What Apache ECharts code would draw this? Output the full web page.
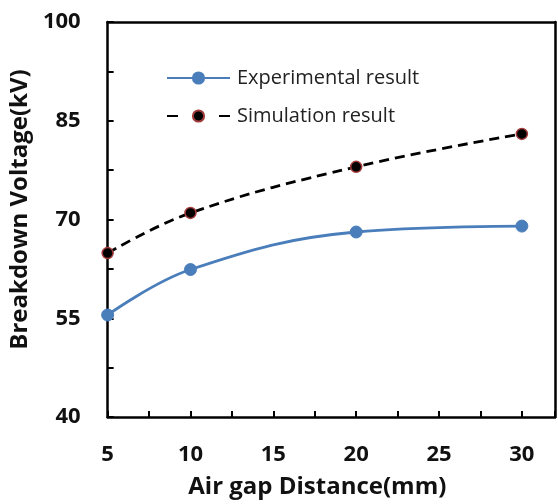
<!DOCTYPE html>
<html><head><meta charset="utf-8">
<script src="https://cdn.jsdelivr.net/npm/echarts@6/dist/echarts.min.js"></script>
<style>html,body{margin:0;padding:0;background:#fff}#c{width:558px;height:504px}</style>
</head><body><div id="c"></div>
<script>
const gapMM = [5, 10, 20, 30];
const experimental = [55.5, 62.4, 68.1, 69.0];
const simulation = [64.9, 71.0, 78.0, 83.0];
const xLabels = [5, 10, 15, 20, 25, 30];
const yLabels = [40, 55, 70, 85, 100];

const FONT = 'Open Sans';
const chart = echarts.init(document.getElementById('c'), null, {renderer: 'canvas'});
const axisLineStyle = {color: '#000', width: 2.5};
chart.setOption({
  animation: false,
  backgroundColor: '#fff',
  grid: {left: 103, right: 3, top: 22, bottom: 84, containLabel: false},
  legend: {
    orient: 'vertical', left: 166, top: 68, itemGap: 18, padding: 0,
    itemWidth: 63, itemHeight: 14,
    textStyle: {fontFamily: FONT, fontSize: 20, color: '#222', padding: [0, 0, 0, 2]},
    data: [
      {name: 'Experimental result'},
      {name: 'Simulation result', lineStyle: {type: [11, 41]}}
    ]
  },
  xAxis: [{
    type: 'value', min: 5, max: 32, interval: 2.5,
    axisLine: {lineStyle: axisLineStyle},
    axisTick: {inside: true, length: 6, lineStyle: {color: '#000', width: 2}},
    splitLine: {show: false},
    axisLabel: {
      margin: 27, fontFamily: FONT, fontWeight: 'bold', fontSize: 22, color: '#111',
      formatter: v => xLabels.includes(v) ? String(v) : ''
    },
    name: 'Air gap Distance(mm)', nameLocation: 'middle', nameGap: 58,
    nameTextStyle: {fontFamily: FONT, fontWeight: 'bold', fontSize: 24, color: '#111', padding: [0, 28, 0, 0]}
  }, {
    type: 'value', position: 'top', min: 5, max: 32,
    axisLine: {show: true, lineStyle: axisLineStyle},
    axisTick: {show: false}, axisLabel: {show: false}, splitLine: {show: false}
  }],
  yAxis: [{
    type: 'value', min: 40, max: 100, interval: 7.5,
    axisLine: {show: true, lineStyle: axisLineStyle},
    axisTick: {inside: true, length: 6, lineStyle: {color: '#000', width: 2}},
    splitLine: {show: false},
    axisLabel: {
      margin: 27, fontFamily: FONT, fontWeight: 'bold', fontSize: 22, color: '#111',
      formatter: v => yLabels.includes(v) ? String(v) : ''
    },
    name: 'Breakdown Voltage(kV)', nameLocation: 'middle', nameGap: 63, nameRotate: 90,
    nameTextStyle: {fontFamily: FONT, fontWeight: 'bold', fontSize: 24, color: '#111', padding: [0, 0, 0, 20]}
  }, {
    type: 'value', position: 'right', min: 40, max: 100,
    axisLine: {show: true, lineStyle: axisLineStyle},
    axisTick: {show: false}, axisLabel: {show: false}, splitLine: {show: false}
  }],
  series: [{
    name: 'Experimental result', type: 'line', smooth: 0.4,
    data: gapMM.map((x, i) => [x, experimental[i]]),
    symbol: 'circle', symbolSize: 12,
    lineStyle: {color: '#4A7EBB', width: 2.8},
    itemStyle: {color: '#4A7EBB', borderColor: '#4A7EBB', borderWidth: 1}
  }, {
    name: 'Simulation result', type: 'line', smooth: 0.4,
    data: gapMM.map((x, i) => [x, simulation[i]]),
    symbol: 'circle', symbolSize: 11,
    lineStyle: {color: '#000', width: 2.8, type: [10, 6]},
    itemStyle: {color: '#000', borderColor: '#A33B3B', borderWidth: 1.5}
  }]
});
</script></body></html>
